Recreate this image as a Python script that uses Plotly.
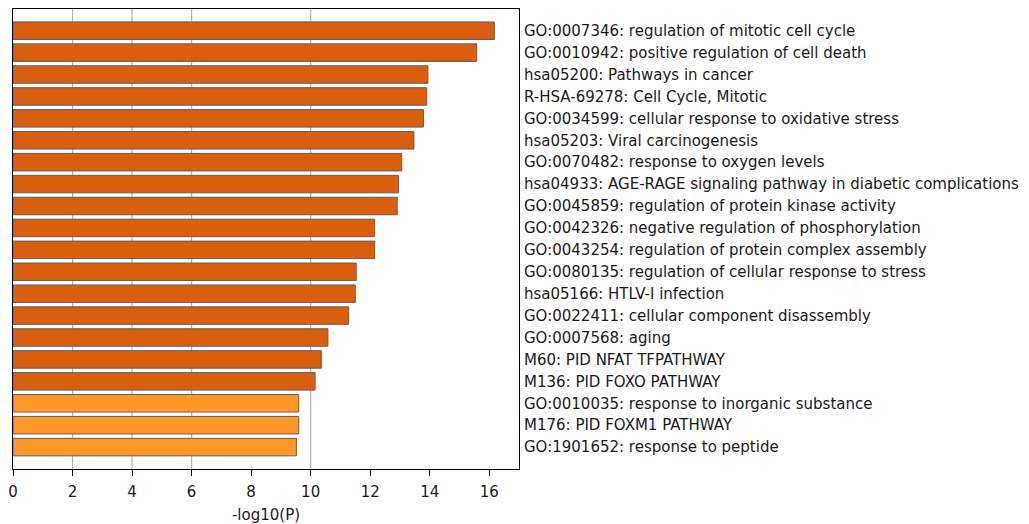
import plotly.graph_objects as go

terms = [
    "GO:0007346: regulation of mitotic cell cycle",
    "GO:0010942: positive regulation of cell death",
    "hsa05200: Pathways in cancer",
    "R-HSA-69278: Cell Cycle, Mitotic",
    "GO:0034599: cellular response to oxidative stress",
    "hsa05203: Viral carcinogenesis",
    "GO:0070482: response to oxygen levels",
    "hsa04933: AGE-RAGE signaling pathway in diabetic complications",
    "GO:0045859: regulation of protein kinase activity",
    "GO:0042326: negative regulation of phosphorylation",
    "GO:0043254: regulation of protein complex assembly",
    "GO:0080135: regulation of cellular response to stress",
    "hsa05166: HTLV-I infection",
    "GO:0022411: cellular component disassembly",
    "GO:0007568: aging",
    "M60: PID NFAT TFPATHWAY",
    "M136: PID FOXO PATHWAY",
    "GO:0010035: response to inorganic substance",
    "M176: PID FOXM1 PATHWAY",
    "GO:1901652: response to peptide",
]
neg_log10_p = [16.17, 15.58, 13.94, 13.90, 13.79, 13.47, 13.06, 12.95, 12.91, 12.15,
               12.15, 11.53, 11.50, 11.28, 10.58, 10.36, 10.15, 9.60, 9.60, 9.52]
bar_colors = ["#D95F0E"] * 17 + ["#FE9929"] * 3
x_ticks = [0, 2, 4, 6, 8, 10, 12, 14, 16]
grid_x = [2, 4, 6, 10]

FONT = "DejaVu Sans"

fig = go.Figure()
fig.add_trace(go.Bar(
    x=neg_log10_p, y=terms, orientation="h",
    marker=dict(color=bar_colors, line=dict(color="#5f5f5f", width=1)),
    width=0.8,
))

for gx in grid_x:
    fig.add_shape(type="line", xref="x", yref="paper", x0=gx, x1=gx, y0=0, y1=1,
                  line=dict(color="#b0b0b0", width=1.2), layer="below")

fig.update_layout(
    width=1029, height=524,
    margin=dict(l=13, r=510, t=9, b=55),
    plot_bgcolor="white", paper_bgcolor="white",
    showlegend=False,
    font=dict(family=FONT, size=15, color="#1a1a1a"),
    xaxis=dict(
        range=[0, 17], tickvals=x_ticks, ticktext=[str(v) for v in x_ticks],
        showgrid=False, zeroline=False, automargin=False,
        showline=True, linecolor="black", linewidth=1, mirror=True,
        ticks="outside", ticklen=6, tickcolor="black", ticklabelstandoff=3,
        tickfont=dict(family=FONT, size=15),
        title=dict(text="-log10(P)", font=dict(family=FONT, size=15), standoff=12),
    ),
    yaxis=dict(
        type="category", side="right", range=[20.0, -0.99],
        showgrid=False, zeroline=False, automargin=False,
        showline=True, linecolor="black", linewidth=1, mirror=True,
        ticks="", ticklabelstandoff=1,
        tickfont=dict(family=FONT, size=15),
    ),
)

fig.write_html("out.html")
